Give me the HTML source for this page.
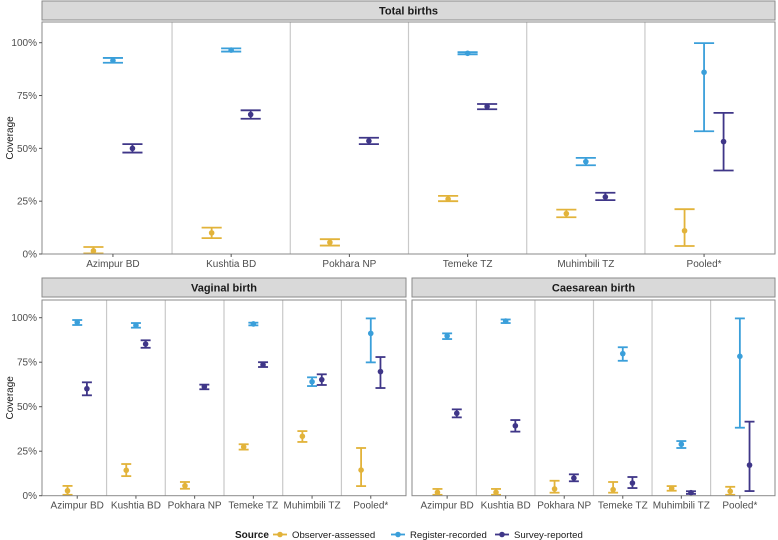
<!DOCTYPE html>
<html><head><meta charset="utf-8"><style>
html,body{margin:0;padding:0;background:#fff}
svg{display:block;font-family:"Liberation Sans",Arial,sans-serif}
</style></head><body>
<svg id="chart" width="778" height="540" viewBox="0 0 778 540"></svg>
<script>
const categories = ["Azimpur BD","Kushtia BD","Pokhara NP","Temeke TZ","Muhimbili TZ","Pooled*"];
const sources = ["Observer-assessed","Register-recorded","Survey-reported"];
const colors = ["#E2B33A","#3A9FDA","#3F3688"];
const yTicks = [0,25,50,75,100];
const yTickLabels = ["0%","25%","50%","75%","100%"];
// [est, low, high] per category, null = missing
const totalObs = [[1.5,0.3,3.3],[10,7.5,12.5],[5.5,4,7],[26,25,27.5],[19.1,17.4,21],[11,3.8,21.2]];
const totalReg = [[91.5,90.5,92.8],[96.5,95.8,97.3],null,[95,94.5,95.5],[43.7,42,45.5],[86,58.1,99.8]];
const totalSur = [[50,48,52],[66,64,68],[53.5,52,55],[69.8,68.5,71],[27,25.5,29],[53.2,39.5,66.8]];
const vagObs = [[2.8,0.5,5.5],[14.3,11,17.8],[5.6,3.9,7.7],[27.4,25.9,28.9],[33.4,30.2,36.3],[14.4,5.4,26.8]];
const vagReg = [[97.4,95.9,98.7],[95.7,94.4,97],null,[96.5,95.7,97.2],[64,61.6,66.5],[91.2,74.9,99.6]];
const vagSur = [[60.1,56.4,63.7],[85.2,83.1,87.3],[61.2,59.8,62.4],[73.6,72.3,75],[65.2,62.2,68.2],[69.7,60.5,77.9]];
const caeObs = [[1.9,0.5,3.8],[1.9,0.5,3.8],[3.8,1.7,8.4],[3.4,1.7,7.7],[4.1,2.8,5.4],[2.5,0.5,5]];
const caeReg = [[89.7,88,91.2],[98.1,97,99],null,[79.8,75.8,83.4],[28.9,26.8,30.7],[78.3,38.2,99.6]];
const caeSur = [[46.3,44,48.5],[39.3,36,42.5],[9.9,8.1,12],[7.1,4.3,10.5],[1.7,1,2.5],[17.2,2.6,41.6]];

const NS="http://www.w3.org/2000/svg";
const svg=document.getElementById('chart');
function mk(tag,attrs,parent){const e=document.createElementNS(NS,tag);for(const k in attrs)e.setAttribute(k,attrs[k]);(parent||svg).appendChild(e);return e;}

function panel(opts){
  const {x0,x1,yTop,y0,y100,hTop,hBot,title,series,showY,name}=opts;
  const g=mk('g',{});
  
  
  const u=(x1-x0)/6.2;
  const xs=i=>x0+(0.6+i)*u;
  const ys=v=>y0-(v/100)*(y0-y100);
  const strip=mk('rect',{x:x0,y:hTop,width:x1-x0,height:hBot-hTop,fill:'#d9d9d9',stroke:'#8a8a8a','stroke-width':1},g);
  
  
  const st=mk('text',{x:(x0+x1)/2,y:(hTop+hBot)/2+4,'text-anchor':'middle','font-size':'11','font-weight':'bold',fill:'#1a1a1a'},g);
  st.textContent=title;
  
  
  mk('rect',{x:x0,y:yTop,width:x1-x0,height:y0-yTop,fill:'#fff'},g);
  for(let i=0;i<5;i++){
    const sx=xs(i+0.5);
    const l=mk('line',{x1:sx,x2:sx,y1:yTop,y2:y0,stroke:'#c9c9c9','stroke-width':1.2},g);
    
    
  }
  const off=[-0.165,0,0.165];
  const cap=0.085*u;
  series.forEach((arr,s)=>{
    arr.forEach((d,i)=>{
      if(!d)return;
      const cx=xs(i)+off[s]*u;
      const eg=mk('g',{stroke:colors[s],'stroke-width':1.8,fill:colors[s]},g);
      
      
      mk('line',{x1:cx,x2:cx,y1:ys(d[1]),y2:ys(d[2])},eg);
      mk('line',{x1:cx-cap,x2:cx+cap,y1:ys(d[1]),y2:ys(d[1])},eg);
      mk('line',{x1:cx-cap,x2:cx+cap,y1:ys(d[2]),y2:ys(d[2])},eg);
      const p=mk('circle',{cx:cx,cy:ys(d[0]),r:2.8,stroke:'none'},eg);
      
      
    });
  });
  mk('rect',{x:x0,y:yTop,width:x1-x0,height:y0-yTop,fill:'none',stroke:'#8a8a8a','stroke-width':1},g);
  categories.forEach((c,i)=>{
    mk('line',{x1:xs(i),x2:xs(i),y1:y0,y2:y0+3,stroke:'#555','stroke-width':1},g);
    const t=mk('text',{x:xs(i),y:y0+13,'text-anchor':'middle','font-size':'10',fill:'#4d4d4d'},g);
    t.textContent=c;
    
    
  });
  if(showY){
    yTicks.forEach((v,i)=>{
      mk('line',{x1:x0-3,x2:x0,y1:ys(v),y2:ys(v),stroke:'#555','stroke-width':1},g);
      const t=mk('text',{x:x0-5,y:ys(v)+3.5,'text-anchor':'end','font-size':'10',fill:'#4d4d4d'},g);
      t.textContent=yTickLabels[i];
      
      
    });
    const yt=mk('text',{x:0,y:0,transform:`translate(13,${(yTop+y0)/2}) rotate(-90)`,'text-anchor':'middle','font-size':'10',fill:'#1a1a1a'},g);
    yt.textContent='Coverage';
    
    
  }
}
panel({x0:42,x1:775,yTop:22,y0:254,y100:42.7,hTop:1,hBot:20,title:'Total births',series:[totalObs,totalReg,totalSur],showY:true,name:'total-births-panel'});
panel({x0:42,x1:406,yTop:300,y0:495.7,y100:317.7,hTop:278,hBot:297,title:'Vaginal birth',series:[vagObs,vagReg,vagSur],showY:true,name:'vaginal-birth-panel'});
panel({x0:412,x1:775,yTop:300,y0:495.7,y100:317.7,hTop:278,hBot:297,title:'Caesarean birth',series:[caeObs,caeReg,caeSur],showY:false,name:'caesarean-birth-panel'});

const lg=mk('g',{});


const lt=mk('text',{x:235,y:538,'font-size':'10','font-weight':'bold',fill:'#1a1a1a'},lg);
lt.textContent='Source';
const keyX=[273,391,495];
sources.forEach((s,i)=>{
  const e=mk('g',{},lg);
  
  
  mk('line',{x1:keyX[i],x2:keyX[i]+14,y1:534.5,y2:534.5,stroke:colors[i],'stroke-width':1.8},e);
  mk('circle',{cx:keyX[i]+7,cy:534.5,r:2.8,fill:colors[i]},e);
  const t=mk('text',{x:keyX[i]+19,y:538,'font-size':'9.6',fill:'#1a1a1a'},e);
  t.textContent=s;
});
</script>
</body></html>
